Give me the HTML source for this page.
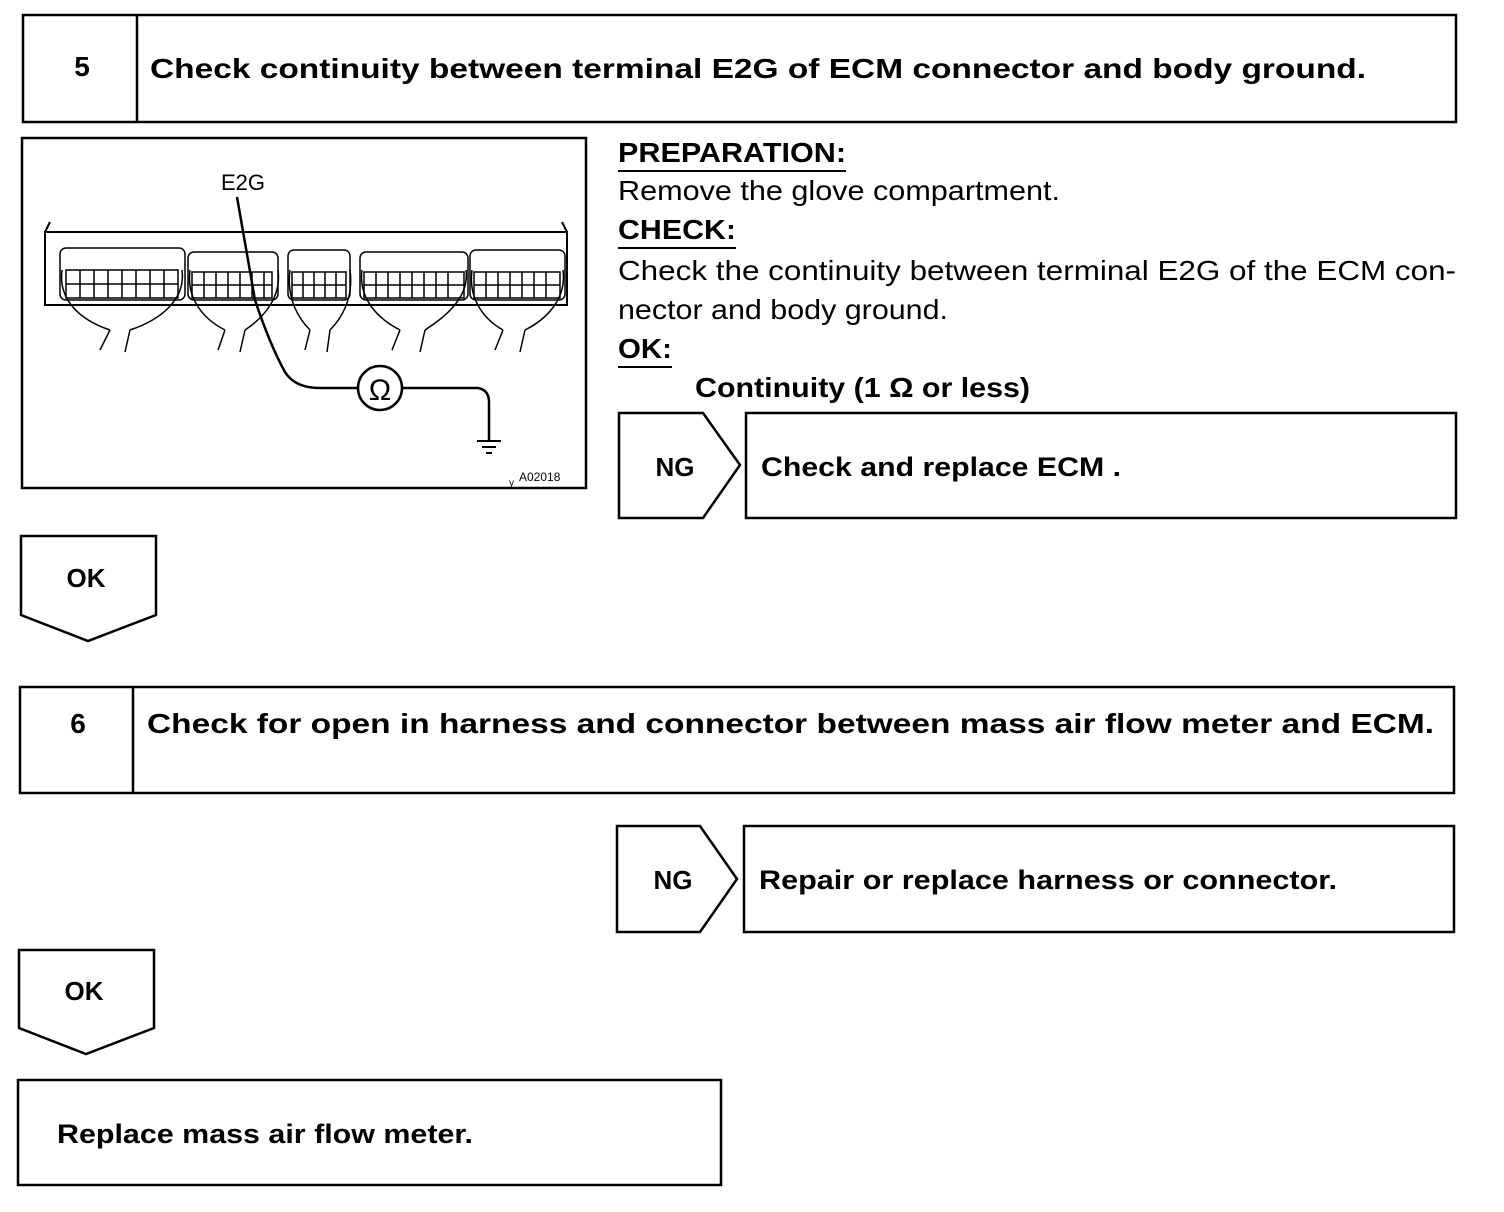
<!DOCTYPE html>
<html><head><meta charset="utf-8"><style>
html,body{margin:0;padding:0;background:#fff}
svg{display:block}
text{font-family:"Liberation Sans",Arial,sans-serif;fill:#000}
.b{font-weight:bold}
</style></head><body>
<svg width="1504" height="1212" viewBox="0 0 1504 1212" xmlns="http://www.w3.org/2000/svg">
<g fill="none" stroke="#000" stroke-width="2.5">
<rect x="23" y="15" width="1433" height="107"/>
<line x1="137" y1="15" x2="137" y2="122"/>
<rect x="22" y="138" width="564" height="350"/>
<polygon points="619,413 703,413 740,465 703,518 619,518"/>
<rect x="746" y="413" width="710" height="105"/>
<polygon points="21,536 156,536 156,615 88,641 21,615"/>
<rect x="20" y="687" width="1434" height="106"/>
<line x1="133" y1="687" x2="133" y2="793"/>
<polygon points="617,826 700,826 737,879 700,932 617,932"/>
<rect x="744" y="826" width="710" height="106"/>
<polygon points="19,950 154,950 154,1028 86,1054 19,1028"/>
<rect x="18" y="1080" width="703" height="105"/>
</g>
<g stroke="#000" stroke-width="2">
<line x1="618" y1="171" x2="846" y2="171"/>
<line x1="618" y1="248" x2="736" y2="248"/>
<line x1="618" y1="367" x2="672" y2="367"/>
</g>
<g fill="none" stroke="#000" stroke-width="2">
<path d="M45,305 L45,232 L567,232 L567,305 Z"/>
<path d="M45,232 L50,222 M567,232 L562,222"/>
<g stroke-width="1.5">
<rect x="60" y="248" width="125" height="52" rx="6"/>
<rect x="188" y="252" width="90" height="48" rx="6"/>
<rect x="288" y="250" width="62" height="50" rx="6"/>
<rect x="360" y="252" width="108" height="48" rx="6"/>
<rect x="470" y="250" width="95" height="50" rx="6"/>
<path d="M66,270 h112 v28 h-112 z M80,270 v28 M94,270 v28 M108,270 v28 M122,270 v28 M136,270 v28 M150,270 v28 M164,270 v28 M66,284 h112"/>
<path d="M192,272 h80 v26 h-80 z M204,272 v26 M216,272 v26 M228,272 v26 M240,272 v26 M252,272 v26 M264,272 v26 M192,285 h80"/>
<path d="M292,272 h54 v26 h-54 z M303,272 v26 M314,272 v26 M325,272 v26 M336,272 v26 M292,285 h54"/>
<path d="M364,272 h100 v26 h-100 z M376,272 v26 M388,272 v26 M400,272 v26 M412,272 v26 M424,272 v26 M436,272 v26 M448,272 v26 M364,285 h100"/>
<path d="M474,272 h86 v26 h-86 z M486,272 v26 M498,272 v26 M510,272 v26 M522,272 v26 M534,272 v26 M546,272 v26 M474,285 h86"/>
<path d="M62,270 C58,300 80,320 110,330 M182,270 C186,300 160,320 130,330 M110,330 L100,350 M130,330 L125,352"/>
<path d="M190,270 C186,300 205,320 225,330 M278,270 C282,300 260,320 245,330 M225,330 L218,350 M245,330 L240,352"/>
<path d="M290,270 C286,300 300,320 310,330 M350,270 C354,300 340,320 330,330 M310,330 L305,350 M330,330 L327,352"/>
<path d="M362,270 C358,300 380,320 400,330 M466,270 C470,300 440,320 425,330 M400,330 L392,350 M425,330 L420,352"/>
<path d="M472,270 C468,300 485,320 503,330 M563,270 C567,300 545,320 525,330 M503,330 L495,350 M525,330 L520,352"/>
</g>
<path d="M237,197 L255,300 Q270,345 285,372 Q295,388 320,388 L358,388" stroke-width="2.5"/>
<circle cx="380" cy="388" r="22" stroke-width="2.5"/>
<path d="M402,388 L478,388 Q489,390 489,402 L489,440" stroke-width="2.5"/>
<path d="M477,441 h24 M482,447 h14 M486,453 h6"/>
</g>
<text x="380" y="400" font-size="30" text-anchor="middle">Ω</text>
<text x="243" y="190" font-size="22" text-anchor="middle">E2G</text>
<text x="519" y="481" font-size="12">A02018</text>
<text x="509" y="486" font-size="10">y</text>
<text class="b" x="82" y="76" font-size="28" text-anchor="middle">5</text>
<text class="b" x="150" y="78" font-size="28" textLength="1216" lengthAdjust="spacingAndGlyphs">Check continuity between terminal E2G of ECM connector and body ground.</text>
<text class="b" x="618" y="162" font-size="28" textLength="228" lengthAdjust="spacingAndGlyphs">PREPARATION:</text>
<text x="618" y="200" font-size="28" textLength="442" lengthAdjust="spacingAndGlyphs">Remove the glove compartment.</text>
<text class="b" x="618" y="239" font-size="28" textLength="118" lengthAdjust="spacingAndGlyphs">CHECK:</text>
<text x="618" y="280" font-size="28" textLength="838" lengthAdjust="spacingAndGlyphs">Check the continuity between terminal E2G of the ECM con-</text>
<text x="618" y="319" font-size="28" textLength="330" lengthAdjust="spacingAndGlyphs">nector and body ground.</text>
<text class="b" x="618" y="358" font-size="28" textLength="54" lengthAdjust="spacingAndGlyphs">OK:</text>
<text class="b" x="695" y="397" font-size="28" textLength="335" lengthAdjust="spacingAndGlyphs">Continuity (1 Ω or less)</text>
<text class="b" x="675" y="476" font-size="26" text-anchor="middle">NG</text>
<text class="b" x="761" y="476" font-size="27" textLength="360" lengthAdjust="spacingAndGlyphs">Check and replace ECM .</text>
<text class="b" x="86" y="587" font-size="26" text-anchor="middle">OK</text>
<text class="b" x="78" y="733" font-size="28" text-anchor="middle">6</text>
<text class="b" x="147" y="733" font-size="28" textLength="1287" lengthAdjust="spacingAndGlyphs">Check for open in harness and connector between mass air flow meter and ECM.</text>
<text class="b" x="673" y="889" font-size="26" text-anchor="middle">NG</text>
<text class="b" x="759" y="889" font-size="27" textLength="578" lengthAdjust="spacingAndGlyphs">Repair or replace harness or connector.</text>
<text class="b" x="84" y="1000" font-size="26" text-anchor="middle">OK</text>
<text class="b" x="57" y="1143" font-size="27" textLength="416" lengthAdjust="spacingAndGlyphs">Replace mass air flow meter.</text>
</svg>
</body></html>
